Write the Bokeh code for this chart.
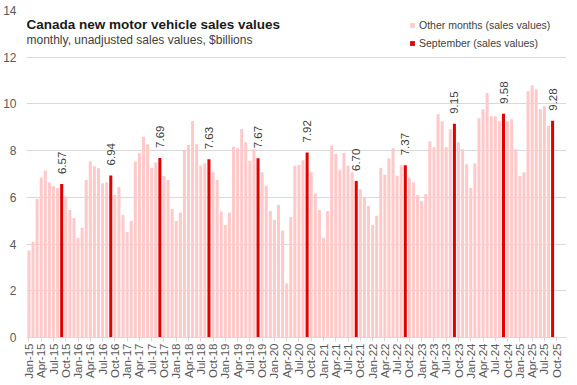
import math
from bokeh.plotting import figure
from bokeh.models import ColumnDataSource, FixedTicker, Range1d, Label, Legend, LegendItem
from bokeh.core.properties import value
from bokeh.embed import file_html
from bokeh.resources import INLINE

# ---- data (monthly, Jan-2015 .. Sep-2025, $billions) ----
sales = [
    3.72, 4.10, 5.93, 6.85, 7.15, 6.64, 6.48, 6.40, 6.57, 6.04, 5.46, 5.12,   # 2015
    4.27, 4.70, 6.74, 7.55, 7.33, 7.25, 6.60, 6.65, 6.94, 6.10, 6.44, 5.25,   # 2016
    4.52, 4.99, 7.53, 7.89, 8.60, 8.27, 7.27, 7.49, 7.69, 6.91, 6.74, 5.50,   # 2017
    4.99, 5.35, 8.03, 8.24, 9.27, 8.27, 7.36, 7.46, 7.63, 7.08, 6.74, 5.39,   # 2018
    4.82, 5.35, 8.17, 8.10, 8.93, 8.36, 7.57, 8.06, 7.67, 7.08, 6.50, 5.42,   # 2019
    5.04, 5.67, 4.58, 2.31, 5.16, 7.35, 7.38, 7.59, 7.92, 7.08, 6.16, 5.46,   # 2020
    4.27, 5.42, 8.22, 7.86, 7.18, 7.90, 7.35, 7.08, 6.70, 6.35, 5.99, 5.63,   # 2021
    4.82, 5.21, 7.26, 6.97, 7.66, 8.10, 6.92, 7.36, 7.37, 6.84, 6.64, 6.10,   # 2022
    5.84, 6.14, 8.40, 8.15, 9.56, 9.26, 8.15, 8.92, 9.15, 8.36, 8.06, 7.42,   # 2023
    6.41, 7.46, 9.39, 9.77, 10.47, 9.47, 9.47, 9.26, 9.58, 9.26, 9.34, 8.06,  # 2024
    6.91, 7.08, 10.54, 10.80, 10.63, 9.77, 9.90, 9.05, 9.28,                  # 2025
]
tick_labels = [
    "Jan-15", "Apr-15", "Jul-15", "Oct-15", "Jan-16", "Apr-16", "Jul-16", "Oct-16",
    "Jan-17", "Apr-17", "Jul-17", "Oct-17", "Jan-18", "Apr-18", "Jul-18", "Oct-18",
    "Jan-19", "Apr-19", "Jul-19", "Oct-19", "Jan-20", "Apr-20", "Jul-20", "Oct-20",
    "Jan-21", "Apr-21", "Jul-21", "Oct-21", "Jan-22", "Apr-22", "Jul-22", "Oct-22",
    "Jan-23", "Apr-23", "Jul-23", "Oct-23", "Jan-24", "Apr-24", "Jul-24", "Oct-24",
    "Jan-25", "Apr-25", "Jul-25", "Oct-25",
]
y_ticks = [0, 2, 4, 6, 8, 10, 12, 14]
title_text = "Canada new motor vehicle sales values"
subtitle_text = "monthly, unadjusted sales values,  $billions"
legend_other = "Other months (sales values)"
legend_sep = "September (sales values)"

# ---- styles ----
PINK = "#FFC9C9"
RED = "#E30000"
AXIS_TXT = "#595959"
GRID = "#d9d9d9"
FONT = "Liberation Sans"

# ---- sources ----
idx = list(range(len(sales)))
other_x = [i for i in idx if i % 12 != 8]
other_y = [sales[i] for i in other_x]
sep_x = [i for i in idx if i % 12 == 8]
sep_y = [sales[i] for i in sep_x]
src_other = ColumnDataSource(dict(x=other_x, top=other_y))
src_sep = ColumnDataSource(dict(x=sep_x, top=sep_y, label=[f"{v:.2f}" for v in sep_y]))

p = figure(frame_width=540, frame_height=327,
           x_range=Range1d(-0.6, 131.4), y_range=Range1d(0, 14),
           output_backend="svg", toolbar_location=None,
           min_border_left=18, min_border_right=3, min_border_top=10, min_border_bottom=0)
p.outline_line_color = None
p.background_fill_color = "white"
p.border_fill_color = "white"

r_other = p.vbar(x="x", top="top", width=0.74, source=src_other,
                 fill_color=PINK, line_color=None)
r_sep = p.vbar(x="x", top="top", width=0.74, source=src_sep,
               fill_color=RED, line_color=None)

p.text(x="x", y="top", text="label", source=src_sep, angle=math.pi / 2,
       text_align="left", text_baseline="middle", y_offset=-10,
       text_font_size="11.5px", text_color="#404040", text_font=value(FONT))

# grid
p.xgrid.visible = False
p.ygrid.grid_line_color = GRID
p.ygrid.ticker = FixedTicker(ticks=y_ticks)

# y axis
p.yaxis.ticker = FixedTicker(ticks=y_ticks)
p.yaxis.axis_line_color = None
p.yaxis.major_tick_line_color = None
p.yaxis.minor_tick_line_color = None
p.yaxis.major_label_text_font_size = "12px"
p.yaxis.major_label_text_color = AXIS_TXT
p.yaxis.major_label_text_font = FONT
p.yaxis.major_label_standoff = 4

# x axis
x_tick_pos = [3 * k for k in range(len(tick_labels))]
p.xaxis.ticker = FixedTicker(ticks=x_tick_pos)
p.xaxis.major_label_overrides = {pos: lbl for pos, lbl in zip(x_tick_pos, tick_labels)}
p.xaxis.major_label_orientation = math.pi / 2
p.xaxis.major_label_text_font_size = "11.5px"
p.xaxis.major_label_text_color = AXIS_TXT
p.xaxis.major_label_text_font = FONT
p.xaxis.major_label_standoff = 2
p.xaxis.axis_line_color = GRID
p.xaxis.major_tick_line_color = GRID
p.xaxis.major_tick_out = 4
p.xaxis.major_tick_in = 0
p.xaxis.minor_tick_line_color = None
p.xaxis.axis_label = None

# title & subtitle
p.add_layout(Label(x=-0.6, y=13.40, text=title_text, text_font=FONT,
                   text_font_style="bold", text_font_size="13.5px",
                   text_color="#1a1a1a", text_baseline="alphabetic"))
p.add_layout(Label(x=-0.6, y=12.75, text=subtitle_text, text_font=FONT,
                   text_font_size="12px", text_color="#404040",
                   text_baseline="alphabetic"))

# legend
legend = Legend(items=[LegendItem(label=legend_other, renderers=[r_other]),
                       LegendItem(label=legend_sep, renderers=[r_sep])],
                location=(383, 287), orientation="vertical",
                glyph_width=6, glyph_height=6, label_standoff=4, spacing=4,
                padding=0, margin=0, label_height=14,
                label_text_font=FONT, label_text_font_size="10.5px",
                label_text_color="#404040",
                border_line_color=None, background_fill_alpha=0)
p.add_layout(legend)

open("out.html", "w").write(file_html(p, INLINE))
